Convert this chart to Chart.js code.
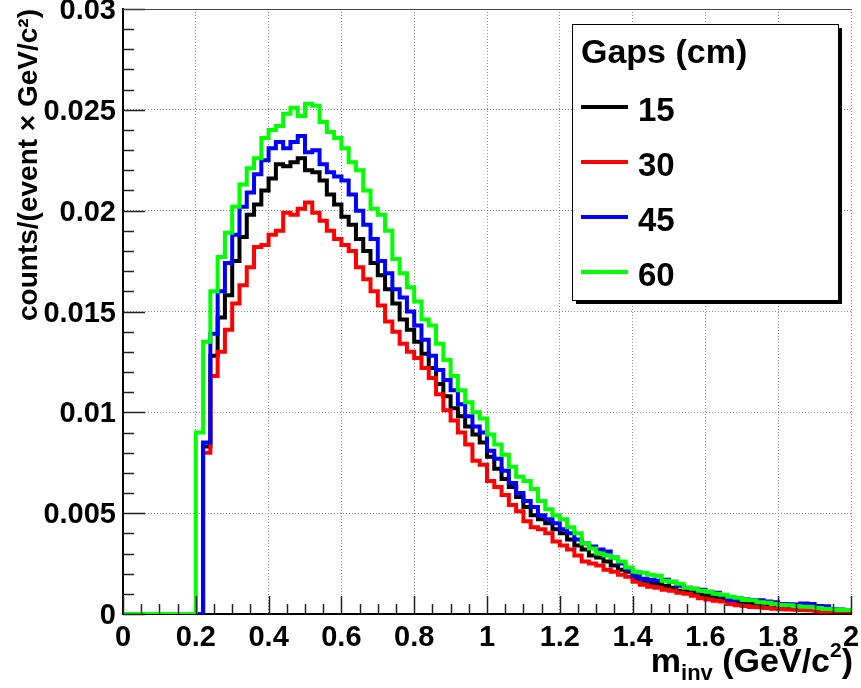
<!DOCTYPE html>
<html>
<head>
<meta charset="utf-8">
<script src="https://cdn.jsdelivr.net/npm/chart.js@4.4.1/dist/chart.umd.min.js"></script>
<style>
  html, body { margin: 0; padding: 0; background: #fff; }
  canvas { display: block; }
</style>
</head>
<body>
<canvas id="myChart" width="861" height="688"></canvas>
<script>
// histogram binning (GeV/c^2): bins of 0.02 starting at 0.2, empty below
const binStart = 0.2;
const binWidth = 0.02;

// bin contents, in units of 1e-3 counts/(event x GeV/c^2)
const gap15 = [0, 8.3, 12.8, 14.7, 15.8, 17.5, 18.7, 19.8, 20.3, 21.0,
  21.6, 22.3, 22.2, 22.4, 22.6, 22.0, 21.9, 21.5, 20.8, 20.3,
  19.7, 19.3, 18.6, 18.0, 17.4, 16.8, 16.1, 15.4, 14.6, 14.1,
  13.5, 12.9, 12.2, 11.4, 10.8, 10.2, 9.8, 9.3, 8.9, 8.5,
  7.8, 7.2, 6.7, 6.3, 5.8, 5.3, 4.9, 4.7, 4.5, 4.2,
  4.0, 3.7, 3.4, 3.2, 2.9, 2.8, 2.6, 2.4, 2.2, 2.1,
  1.75, 1.65, 1.55, 1.5, 1.4, 1.3, 1.15, 1.1, 1.05, 0.95,
  0.9, 0.82, 0.75, 0.65, 0.6, 0.55, 0.5, 0.46, 0.42, 0.4,
  0.36, 0.34, 0.32, 0.3, 0.28, 0.25, 0.2, 0.12, 0.14, 0.15];

const gap30 = [0, 8.0, 11.8, 13.0, 14.1, 15.4, 16.3, 17.2, 18.2, 18.3,
  18.8, 19.0, 19.9, 19.8, 20.1, 20.4, 19.9, 19.5, 19.0, 18.6,
  18.3, 18.0, 17.2, 16.6, 16.0, 15.3, 14.5, 14.0, 13.4, 13.0,
  12.7, 12.2, 11.7, 10.9, 10.1, 9.6, 9.0, 8.4, 7.6, 7.4,
  6.6, 6.3, 5.9, 5.4, 5.1, 4.6, 4.3, 4.2, 4.0, 3.6,
  3.4, 3.2, 2.9, 2.6, 2.5, 2.4, 2.2, 2.1, 1.95, 1.85,
  1.6, 1.45, 1.35, 1.3, 1.2, 1.15, 1.05, 1.0, 0.9, 0.78,
  0.72, 0.66, 0.62, 0.5, 0.44, 0.4, 0.35, 0.33, 0.3, 0.26,
  0.24, 0.22, 0.21, 0.2, 0.18, 0.12, 0.11, 0.12, 0.14, 0.14];

const gap45 = [0, 8.5, 13.9, 16.0, 17.4, 18.8, 20.2, 20.9, 21.8, 22.5,
  23.1, 23.4, 23.1, 23.4, 23.7, 22.9, 23.0, 22.3, 21.9, 21.7,
  21.5, 20.8, 20.0, 19.3, 18.6, 17.5, 16.9, 16.1, 15.7, 15.0,
  14.3, 13.6, 12.8, 12.1, 11.6, 11.1, 10.4, 9.8, 9.3, 9.0,
  8.1, 7.7, 7.1, 6.5, 6.0, 5.6, 5.3, 4.9, 4.7, 4.5,
  4.2, 4.0, 3.7, 3.5, 3.35, 3.2, 3.1, 2.8, 2.5, 2.2,
  1.9, 1.75, 1.7, 1.65, 1.7, 1.6, 1.4, 1.3, 1.25, 1.2,
  1.1, 1.05, 0.9, 0.7, 0.72, 0.72, 0.7, 0.68, 0.62, 0.58,
  0.5, 0.48, 0.47, 0.52, 0.5, 0.4, 0.38, 0.25, 0.22, 0.2];

const gap60 = [9.0, 13.5, 16.0, 17.7, 18.9, 20.2, 21.3, 22.1, 22.6, 23.6,
  24.0, 24.2, 24.8, 25.1, 24.7, 25.3, 25.2, 24.4, 23.9, 23.6,
  23.1, 22.4, 22.0, 21.0, 20.1, 19.8, 19.0, 17.6, 16.9, 16.2,
  15.5, 14.6, 14.3, 13.4, 12.6, 11.8, 11.1, 10.5, 10.0, 9.7,
  8.9, 8.4, 7.9, 7.3, 6.8, 6.6, 6.2, 5.6, 5.2, 4.9,
  4.7, 4.3, 4.0, 3.5, 3.25, 3.0, 2.9, 2.8, 2.6, 2.3,
  2.1, 2.05, 1.95, 1.9, 1.65, 1.6, 1.5, 1.3, 1.25, 1.15,
  1.1, 1.0, 0.95, 0.85, 0.8, 0.7, 0.68, 0.58, 0.56, 0.5,
  0.45, 0.44, 0.4, 0.36, 0.35, 0.3, 0.25, 0.24, 0.2, 0.2];

const gapLabels = ['15', '30', '45', '60'];
const gapColors = ['#000000', '#ff0000', '#0000ff', '#00ff00'];

const xTickLabels = ['0', '0.2', '0.4', '0.6', '0.8', '1', '1.2', '1.4', '1.6', '1.8', '2'];
const yTickLabels = ['0', '0.005', '0.01', '0.015', '0.02', '0.025', '0.03'];

const boldSans = "'Liberation Sans', Arial, Helvetica, sans-serif";

// turn bin contents into step points (left edge of each bin)
function histPoints(values) {
  const pts = [{x: 0, y: 0}];
  values.forEach(function (v, i) {
    pts.push({x: binStart + i * binWidth, y: v / 1000});
  });
  pts.push({x: 2, y: values[values.length - 1] / 1000});
  return pts;
}

const series = [gap15, gap30, gap45, gap60];

const datasets = series.map(function (vals, i) {
  return {
    label: gapLabels[i],
    data: histPoints(vals),
    borderColor: gapColors[i],
    backgroundColor: gapColors[i],
    borderWidth: 4,
    stepped: 'before',
    pointRadius: 0,
    fill: false,
    borderJoinStyle: 'miter',
    order: 4 - i   // green drawn last, on top
  };
});

const bgPlugin = {
  id: 'bg',
  beforeDraw(chart) {
    const ctx = chart.ctx;
    ctx.save();
    ctx.fillStyle = '#ffffff';
    ctx.fillRect(0, 0, chart.width, chart.height);
    ctx.restore();
  }
};

// ROOT style inner tick marks + top frame
const rootAxes = {
  id: 'rootAxes',
  afterDatasetsDraw(chart) {
    const ctx = chart.ctx;
    const xs = chart.scales.x, ys = chart.scales.y;
    const a = chart.chartArea;
    ctx.save();
    ctx.strokeStyle = '#222';
    ctx.lineWidth = 1.5;
    ctx.beginPath();
    for (let k = 0; k <= 40; k++) {
      const px = Math.round(xs.getPixelForValue(k * 0.05)) + 0.5;
      const len = (k % 4 === 0) ? 18 : 10;
      ctx.moveTo(px, a.bottom);
      ctx.lineTo(px, a.bottom - len);
    }
    for (let k = 0; k <= 30; k++) {
      const py = Math.round(ys.getPixelForValue(k * 0.001)) + 0.5;
      const len = (k % 5 === 0) ? 22 : 11;
      ctx.moveTo(a.left, py);
      ctx.lineTo(a.left + len, py);
    }
    ctx.stroke();
    ctx.strokeStyle = '#444';
    ctx.lineWidth = 1;
    ctx.beginPath();
    ctx.moveTo(a.left, a.top + 0.5);
    ctx.lineTo(a.right, a.top + 0.5);
    ctx.stroke();
    ctx.restore();
  }
};

// x title with subscript and superscript
const xTitle = {
  id: 'xTitle',
  afterDraw(chart) {
    const ctx = chart.ctx;
    const right = chart.chartArea.right + 2;
    const base = 672;
    const parts = [
      {t: 'm', size: 34, dy: 0},
      {t: 'inv', size: 22, dy: 8},
      {t: ' (GeV/c', size: 34, dy: 0},
      {t: '2', size: 21, dy: -15},
      {t: ')', size: 34, dy: 0}
    ];
    ctx.save();
    ctx.fillStyle = '#000';
    ctx.textBaseline = 'alphabetic';
    ctx.textAlign = 'left';
    let total = 0;
    parts.forEach(function (p) {
      ctx.font = 'bold ' + p.size + 'px ' + boldSans;
      p.w = ctx.measureText(p.t).width;
      total += p.w;
    });
    let x = right - total;
    parts.forEach(function (p) {
      ctx.font = 'bold ' + p.size + 'px ' + boldSans;
      ctx.fillText(p.t, x, base + p.dy);
      x += p.w;
    });
    ctx.restore();
  }
};

// legend box with shadow, like ROOT TLegend
const legendBox = {
  id: 'legendBox',
  afterDraw(chart) {
    const ctx = chart.ctx;
    const bx = 572, by = 24, bw = 266, bh = 276;
    ctx.save();
    ctx.fillStyle = '#000';
    ctx.fillRect(bx + 4, by + 4, bw, bh);
    ctx.fillStyle = '#fff';
    ctx.fillRect(bx, by, bw, bh);
    ctx.strokeStyle = '#000';
    ctx.lineWidth = 1;
    ctx.strokeRect(bx + 0.5, by + 0.5, bw, bh);
    ctx.fillStyle = '#000';
    ctx.textBaseline = 'alphabetic';
    ctx.font = 'bold 34px ' + boldSans;
    ctx.fillText('Gaps (cm)', bx + 9, by + 39);
    chart.data.datasets.forEach(function (ds, i) {
      const ly = by + 83 + i * 55;
      ctx.strokeStyle = ds.borderColor;
      ctx.lineWidth = 4;
      ctx.beginPath();
      ctx.moveTo(bx + 9, ly);
      ctx.lineTo(bx + 56, ly);
      ctx.stroke();
      ctx.fillStyle = '#000';
      ctx.font = 'bold 33px ' + boldSans;
      ctx.fillText(ds.label, bx + 66, ly + 14);
    });
    ctx.restore();
  }
};

const ctx = document.getElementById('myChart').getContext('2d');
const myChart = new Chart(ctx, {
  type: 'line',
  data: { datasets: datasets },
  plugins: [bgPlugin, rootAxes, xTitle, legendBox],
  options: {
    responsive: false,
    animation: false,
    devicePixelRatio: 1,
    layout: { padding: { top: 9, right: 10, left: 0, bottom: 0 } },
    plugins: {
      legend: { display: false },
      tooltip: { enabled: false }
    },
    scales: {
      x: {
        type: 'linear',
        min: 0,
        max: 2,
        afterFit: function (scale) {
          scale.height = 74;
          scale.paddingLeft = 0;
          scale.paddingRight = 0;
        },
        ticks: {
          stepSize: 0.2,
          maxRotation: 0,
          autoSkip: false,
          padding: 7,
          color: '#000',
          font: { family: boldSans, size: 29, weight: 'bold' },
          callback: function (v, i) { return xTickLabels[i]; }
        },
        grid: { color: '#8a8a8a', lineWidth: 1, drawTicks: false },
        border: { display: true, color: '#000', width: 2, dash: [1, 2] }
      },
      y: {
        type: 'linear',
        min: 0,
        max: 0.03,
        afterFit: function (scale) {
          scale.width = 123;
          scale.paddingTop = 0;
          scale.paddingBottom = 0;
        },
        ticks: {
          stepSize: 0.005,
          padding: 7,
          labelOffset: 2,
          color: '#000',
          font: { family: boldSans, size: 29, weight: 'bold' },
          callback: function (v, i) { return yTickLabels[i]; }
        },
        grid: { color: '#8a8a8a', lineWidth: 1, drawTicks: false },
        border: { display: true, color: '#000', width: 2, dash: [1, 2] },
        title: {
          display: true,
          text: 'counts/(event × GeV/c²)',
          align: 'end',
          color: '#000',
          font: { family: boldSans, size: 28, weight: 'bold' },
          padding: { top: 12, bottom: 0 }
        }
      }
    }
  }
});
</script>
</body>
</html>
